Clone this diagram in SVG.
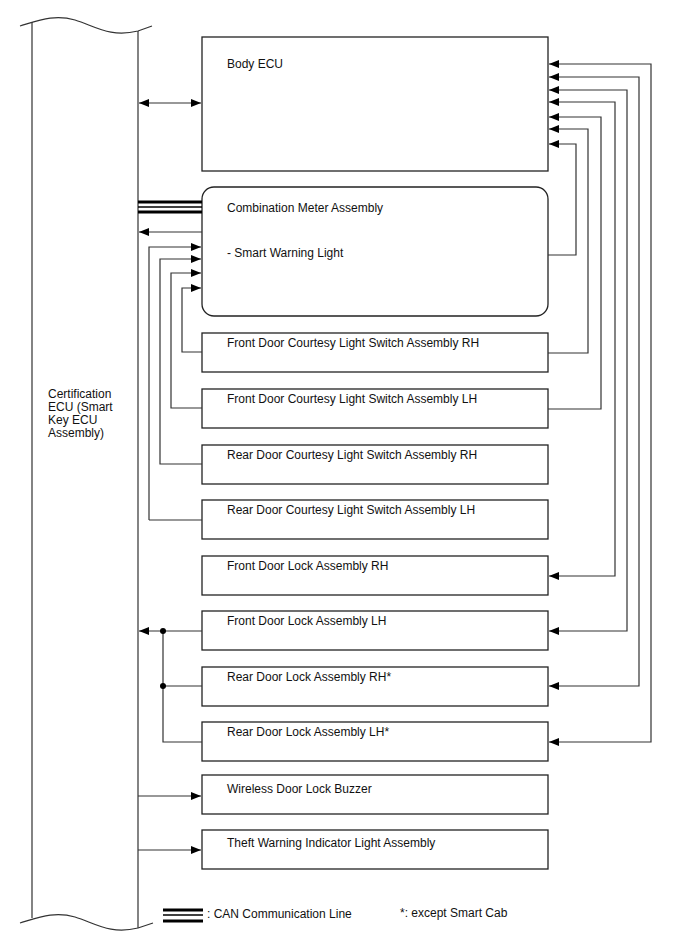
<svg xmlns="http://www.w3.org/2000/svg" width="688" height="949" viewBox="0 0 688 949">
<defs>
<marker id="ah" viewBox="0 0 10 8" refX="10" refY="4" markerWidth="10" markerHeight="8" markerUnits="userSpaceOnUse" orient="auto-start-reverse">
<path d="M0,0 L10,4 L0,8 Z" fill="#000"/>
</marker>
</defs>
<style>
.box{fill:#fff;stroke:#222;stroke-width:1.3}
.t{font-family:"Liberation Sans",Arial,sans-serif;font-size:12px;fill:#111}
.c{fill:none;stroke:#333;stroke-width:1.2}
.a{marker-end:url(#ah)}
.can{stroke:#000;fill:none}
</style>
<rect width="688" height="949" fill="#fff"/>
<g id="cert-ecu">
<path d="M32,22 L32,918 M138,31 L138,928" class="c" stroke-width="1.4"/>
<path d="M20,26 C40,20 55,14 75,20 C95,26 110,38 138,31 L152,26" class="c"/>
<path d="M20,923 C40,917 55,911 75,917 C95,923 110,935 138,928 L153,923" class="c"/>
<text class="t"><tspan x="48" y="398">Certification</tspan><tspan x="48" y="411">ECU (Smart</tspan><tspan x="48" y="424">Key ECU</tspan><tspan x="48" y="437">Assembly)</tspan></text>
</g>
<g id="body-ecu"><rect class="box" x="202" y="37" width="346" height="134"/><text class="t" x="227" y="68">Body ECU</text></g>
<g id="combination-meter"><rect class="box" x="202" y="187" width="346" height="129" rx="12"/><text class="t" x="227" y="212">Combination Meter Assembly</text><text class="t" x="227" y="257">- Smart Warning Light</text></g>
<g id="fd-courtesy-rh"><rect class="box" x="202" y="333" width="346" height="39"/><text class="t" x="227" y="347">Front Door Courtesy Light Switch Assembly RH</text></g>
<g id="fd-courtesy-lh"><rect class="box" x="202" y="389" width="346" height="39"/><text class="t" x="227" y="403">Front Door Courtesy Light Switch Assembly LH</text></g>
<g id="rd-courtesy-rh"><rect class="box" x="202" y="445" width="346" height="39"/><text class="t" x="227" y="459">Rear Door Courtesy Light Switch Assembly RH</text></g>
<g id="rd-courtesy-lh"><rect class="box" x="202" y="500" width="346" height="39"/><text class="t" x="227" y="514">Rear Door Courtesy Light Switch Assembly LH</text></g>
<g id="fd-lock-rh"><rect class="box" x="202" y="556" width="346" height="39"/><text class="t" x="227" y="570">Front Door Lock Assembly RH</text></g>
<g id="fd-lock-lh"><rect class="box" x="202" y="611" width="346" height="39"/><text class="t" x="227" y="625">Front Door Lock Assembly LH</text></g>
<g id="rd-lock-rh"><rect class="box" x="202" y="667" width="346" height="39"/><text class="t" x="227" y="681">Rear Door Lock Assembly RH*</text></g>
<g id="rd-lock-lh"><rect class="box" x="202" y="722" width="346" height="39"/><text class="t" x="227" y="736">Rear Door Lock Assembly LH*</text></g>
<g id="buzzer"><rect class="box" x="202" y="775" width="346" height="39"/><text class="t" x="227" y="793">Wireless Door Lock Buzzer</text></g>
<g id="theft-light"><rect class="box" x="202" y="830" width="346" height="39"/><text class="t" x="227" y="847">Theft Warning Indicator Light Assembly</text></g>
<g id="connectors">
<path class="c" d="M139,103 L201,103" marker-start="url(#ah)" marker-end="url(#ah)"/>
<path class="can" d="M138,202 L202,202" stroke-width="3"/>
<path class="can" d="M138,207 L202,207" stroke-width="1.5"/>
<path class="can" d="M138,212 L202,212" stroke-width="3"/>
<path class="c a" d="M202,232 L139,232"/>
<path class="c a" d="M149,520 L202,520 M149,520 L149,247 L201,247"/>
<path class="c a" d="M202,464 L160,464 L160,259 L201,259"/>
<path class="c a" d="M202,408 L171,408 L171,273 L201,273"/>
<path class="c a" d="M202,352 L182,352 L182,288 L201,288"/>
<path class="c a" d="M548,255 L576,255 L576,144 L549,144"/>
<path class="c a" d="M548,353 L588,353 L588,129 L549,129"/>
<path class="c a" d="M548,409 L601,409 L601,117 L549,117"/>
<path class="c a" d="M549,576 L615,576 L615,102 L549,102" marker-start="url(#ah)"/>
<path class="c a" d="M549,631 L627,631 L627,90 L549,90" marker-start="url(#ah)"/>
<path class="c a" d="M549,686 L639,686 L639,77 L549,77" marker-start="url(#ah)"/>
<path class="c a" d="M549,742 L651,742 L651,64 L549,64" marker-start="url(#ah)"/>
<path class="c a" d="M202,631 L139,631"/>
<path class="c" d="M202,686 L163,686 M202,742 L163,742 L163,631"/>
<circle cx="163" cy="631" r="3" fill="#000"/>
<circle cx="163" cy="686" r="3" fill="#000"/>
<path class="c a" d="M138,796 L201,796"/>
<path class="c a" d="M138,850 L201,850"/>
</g>
<g id="legend">
<path class="can" d="M163,910 L203,910" stroke-width="3"/>
<path class="can" d="M163,915 L203,915" stroke-width="1.5"/>
<path class="can" d="M163,921 L203,921" stroke-width="3"/>
<text class="t" x="207" y="918">: CAN Communication Line</text>
<text class="t" x="400" y="917">*: except Smart Cab</text>
</g>
</svg>
